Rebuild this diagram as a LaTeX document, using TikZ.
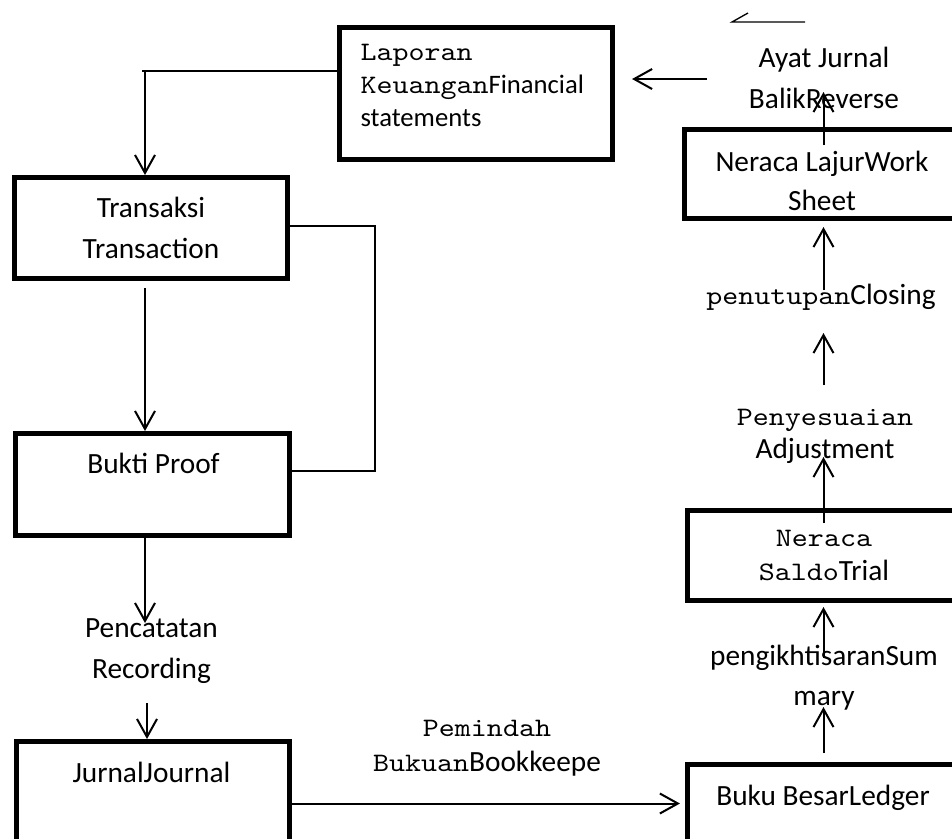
\documentclass[tikz,border=0pt]{standalone}
\usepackage{fontspec}
\setmainfont{Carlito}
\newfontfamily\cour{lmmono10-regular.otf}[FakeStretch=1.143]
\usetikzlibrary{arrows.meta,calc}
\newcommand{\mo}[1]{{\cour\fontsize{10}{12}\selectfont #1}}
\begin{document}
\begin{tikzpicture}[x=0.375pt,y=-0.375pt,
  box/.style={draw,line width=1.875pt,inner sep=0pt,anchor=north west},
  txt/.style={inner sep=0pt,align=center,font=\fontsize{11}{15.4}\selectfont},
  arr/.style={line width=0.75pt,-{Straight Barb[length=6.75pt,width=7.5pt]}},
  thinl/.style={line width=0.5pt}]
\useasboundingbox (0,0) rectangle (952,838);
\clip (0,0) rectangle (952,838);
% boxes
\node[box,minimum width=102.375pt,minimum height=49.5pt] (lap) at (337,25) {};
\node[box,minimum width=102.375pt,minimum height=37.875pt] (trans) at (12,175) {};
\node[box,minimum width=102.75pt,minimum height=38.25pt] (bukti) at (13,431) {};
\node[box,minimum width=102.375pt,minimum height=47.25pt] (jurnal) at (14,739) {};
\node[box,minimum width=102pt,minimum height=42.375pt] (buku) at (685,762) {};
\node[box,minimum width=102pt,minimum height=33.75pt] (saldo) at (685,508) {};
\node[box,minimum width=103.125pt,minimum height=33.375pt] (lajur) at (682,127) {};
% texts
\node[txt,align=left,anchor=west,font=\fontsize{10}{12.4}\selectfont] (lapT) at (360,85.5) {\mo{Laporan}\\\mo{Keuangan}Financial\\statements};
\node[txt] (transT) at (151,227.5) {Transaksi\\Transaction};
\node[txt] (buktiT) at (153.5,463) {Bukti Proof};
\node[txt] (pencT) at (151.5,651) {Pencatatan\\Recording};
\node[txt] (jurnalT) at (151.5,772) {JurnalJournal};
\node[txt,font=\fontsize{11}{13.1}\selectfont] (pemT) at (487,748.5) {\mo{Pemindah}\\\mo{Bukuan}Bookkeepe};
\node[txt] (bukuT) at (823,798) {Buku BesarLedger};
\node[txt,font=\fontsize{11}{15}\selectfont] (pengT) at (824,677.5) {pengikhtisaranSum\\mary};
\node[txt,font=\fontsize{11}{13.1}\selectfont] (saldoT) at (824,555.5) {\mo{Neraca}\\\mo{Saldo}Trial};
\node[txt,font=\fontsize{11}{12.4}\selectfont] (penyT) at (825,436) {\mo{Penyesuaian}\\Adjustment};
\node[txt] (penutT) at (821,297) {\mo{penutupan}Closing};
\node[txt,font=\fontsize{11}{14.6}\selectfont] (lajurT) at (822,180.5) {Neraca LajurWork\\Sheet};
\node[txt] (ayatT) at (824,77.5) {Ayat Jurnal\\BalikReverse};
% coordinates
\coordinate (xL) at (145,0);
\coordinate (xL2) at (147,0);
\coordinate (xR) at (823.5,0);
\coordinate (c1) at (142,71);
\coordinate (b1) at (375,226);
\coordinate (b2) at (375,471);
\coordinate (p1) at (145,623);
\coordinate (p2) at (147,703);
\coordinate (hy) at (0,803.5);
\coordinate (r1) at (823.5,753);
\coordinate (r1t) at (823.5,707);
\coordinate (r2) at (823.5,658);
\coordinate (r3) at (823.5,523);
\coordinate (r3t) at (823.5,457);
\coordinate (r4) at (823.5,385);
\coordinate (r4t) at (823.5,333);
\coordinate (r5) at (823.5,290);
\coordinate (r6) at (823.5,145);
\coordinate (r6t) at (823.5,92);
\coordinate (a1) at (707,79);
\coordinate (s1) at (732,22);
\coordinate (s2) at (805,22);
\coordinate (s3) at (748,13);
% connectors
\draw[line width=0.75pt] (lap.west |- c1) -- (c1);
\draw[arr] (c1 -| xL) -- (trans.north -| xL);
\draw[arr,shorten <=2.6pt] (trans.south -| xL) -- (bukti.north -| xL);
\draw[thinl] (trans.east |- b1) -- (b1) -- (b2) -- (bukti.east |- b2);
\draw[arr] (bukti.south -| xL) -- (p1);
\draw[arr] (p2) -- (jurnal.north -| xL2);
\draw[arr,shorten >=1.9pt] (jurnal.east |- hy) -- (buku.west |- hy);
\draw[arr] (r1) -- (r1t);
\draw[arr,shorten >=1.5pt] (r2) -- (saldo.south -| xR);
\draw[arr] (r3) -- (r3t);
\draw[arr] (r4) -- (r4t);
\draw[arr,shorten >=2.25pt] (r5) -- (lajur.south -| xR);
\draw[arr] (r6) -- (r6t);
\draw[arr,shorten >=6.4pt] (a1) -- (lap.east |- a1);
\draw[thinl] (s3) -- (s1) -- (s2);
\end{tikzpicture}
\end{document}
